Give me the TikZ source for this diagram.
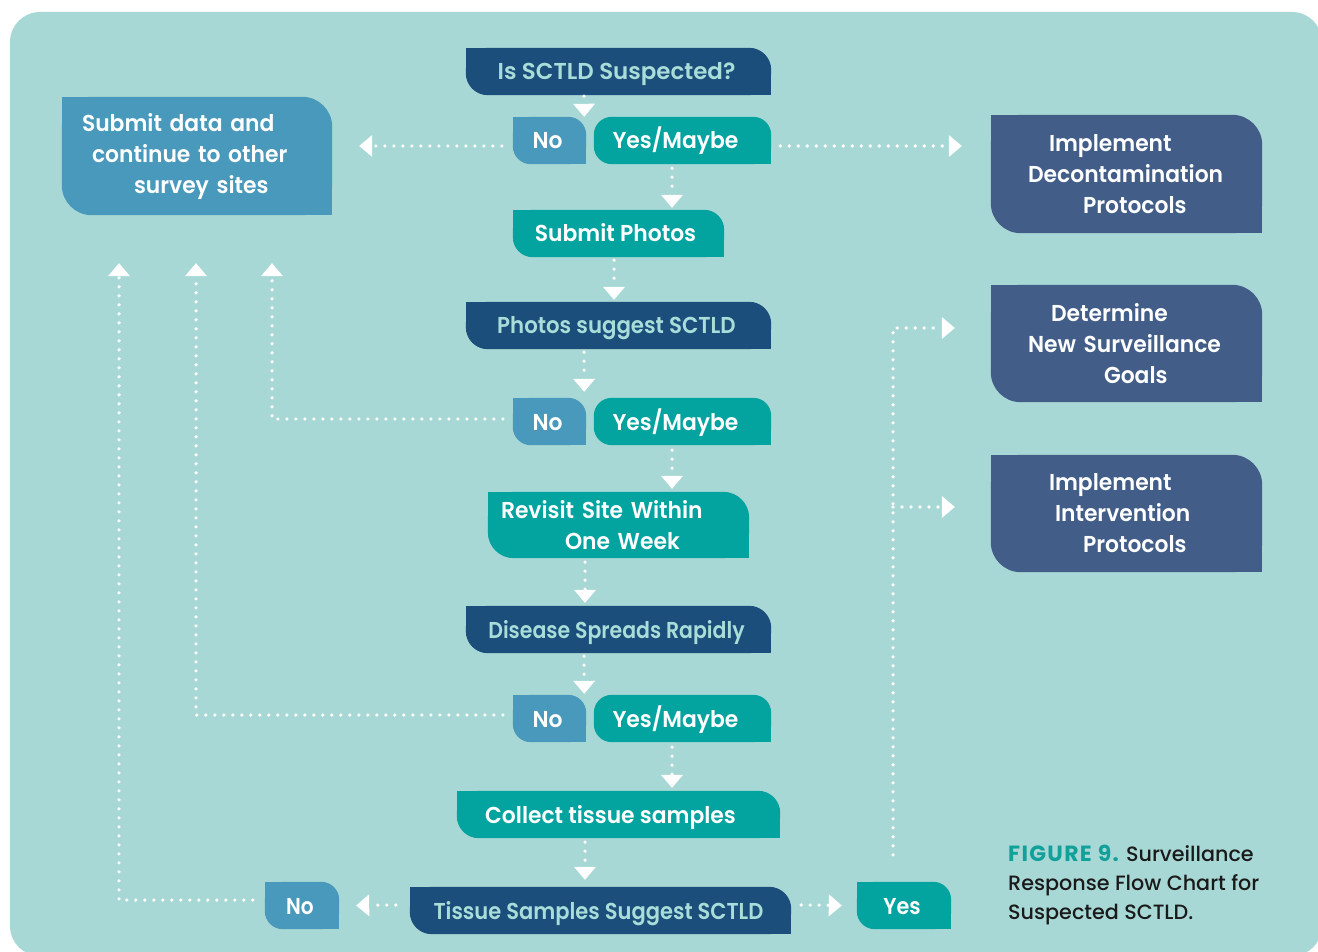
\documentclass[tikz,border=0pt]{standalone}
\usepackage{graphicx}
\usepackage{fontspec}
\usetikzlibrary{arrows.meta}
\newfontfamily\popr{Poppins}
\IfFontExistsTF{Poppins SemiBold}{\newfontfamily\boxfont{Poppins SemiBold}[FakeStretch=0.95]}{\newcommand\boxfont{\popr\bfseries}}
\IfFontExistsTF{Poppins Medium}{\newfontfamily\capfont{Poppins Medium}}{\newcommand\capfont{\popr}}
\definecolor{bgc}{HTML}{A8D8D5}
\definecolor{qc}{HTML}{1B4E7A}
\definecolor{qtext}{HTML}{A9DDD9}
\definecolor{slate}{HTML}{425E88}
\definecolor{noc}{HTML}{4899BB}
\definecolor{teal}{HTML}{03A3A0}
\definecolor{figc}{HTML}{12A09B}
\definecolor{capc}{HTML}{1A1A1A}
\pgfdeclarelayer{bg}
\pgfdeclarelayer{boxes}
\pgfsetlayers{bg,boxes,main}
% leaf shape: rounded top-right and bottom-left corners
\newcommand\leafshape[3]{%
\begin{pgfonlayer}{boxes}
\fill[#2,rounded corners=#3] (#1.south west) rectangle (#1.north east);
\fill[#2] (#1.north west) rectangle ([xshift=#3,yshift=-#3]#1.north west);
\fill[#2] (#1.south east) rectangle ([xshift=-#3,yshift=#3]#1.south east);
\end{pgfonlayer}}
% yes shape: square bottom-right only
\newcommand\yesshape[3]{%
\begin{pgfonlayer}{boxes}
\fill[#2,rounded corners=#3] (#1.south west) rectangle (#1.north east);
\fill[#2] (#1.south east) rectangle ([xshift=-#3,yshift=#3]#1.south east);
\end{pgfonlayer}}
\tikzset{
  base/.style={inner sep=0pt, text=white, font=\boxfont\fontsize{23}{31}\selectfont},
  qbox/.style={base, text=qtext, minimum height=47pt, text height=17pt, text depth=0pt},
  sbox/.style={base, minimum height=47pt, text height=17pt, text depth=0pt},
  mbox/.style={base, align=left},
  captext/.style={inner sep=0pt, text=capc, font=\capfont\fontsize{20.7}{29}\selectfont},
  dv/.style={white, line width=3.6pt, line cap=round, dash pattern=on 0pt off 9pt,
    -{Triangle[width=22pt,length=13pt,line width=0pt]}},
}
\newcommand\hsc[2]{\scalebox{#1}[1]{#2}}
\begin{document}
\begin{tikzpicture}[x=1pt,y=-1pt]
\useasboundingbox (0,0) rectangle (1318,952);
\begin{pgfonlayer}{bg}
\fill[white] (0,0) rectangle (1318,952);
\fill[bgc, rounded corners=30pt] (10,12) rectangle (1322,956);
\end{pgfonlayer}

% nodes
\node[qbox, minimum width=305pt] (q1) at (618.5,71.5) {\hspace*{-4pt}\hsc{1.05}{Is SCTLD Suspected?}};
\node[sbox, minimum width=73pt] (no1) at (549.5,140.5) {\hspace*{-4pt}No};
\node[sbox, minimum width=177pt] (yes1) at (682.5,140.5) {\hspace*{-14pt}Yes/Maybe};
\node[mbox, text width=270pt, minimum height=118pt] (sub) at (197,156)
  {\hspace*{20pt}Submit data and\\\hspace*{30pt}continue to other\\\hspace*{72pt}survey sites};
\node[mbox, text width=271pt, minimum height=118pt] (dec) at (1126.5,174)
  {\hspace*{58pt}Implement\\\hspace*{37pt}Decontamination\\\hspace*{92pt}Protocols};
\node[sbox, minimum width=211pt] (photos) at (618.5,233.5) {\hspace*{-6pt}Submit Photos};
\node[qbox, minimum width=305pt] (q2) at (618.5,325.5) {\hspace*{-4pt}\hsc{0.975}{Photos suggest SCTLD}};
\node[sbox, minimum width=73pt] (no2) at (549.5,421.5) {\hspace*{-4pt}No};
\node[sbox, minimum width=177pt] (yes2) at (682.5,421.5) {\hspace*{-14pt}Yes/Maybe};
\node[mbox, text width=261pt, minimum height=66pt] (revisit) at (618.5,525)
  {\hspace*{13pt}Revisit Site Within\\\hspace*{77pt}One Week};
\node[qbox, minimum width=305pt] (q3) at (618.5,629.5) {\hspace*{-4pt}\hsc{0.937}{Disease Spreads Rapidly}};
\node[sbox, minimum width=73pt] (no3) at (549.5,718.5) {\hspace*{-4pt}No};
\node[sbox, minimum width=177pt] (yes3) at (682.5,718.5) {\hspace*{-14pt}Yes/Maybe};
\node[sbox, minimum width=323pt] (collect) at (618.5,814.5) {\hspace*{-16pt}Collect tissue samples};
\node[qbox, minimum width=381pt] (q4) at (600.5,910.5) {\hspace*{-4pt}\hsc{0.962}{Tissue Samples Suggest SCTLD}};
\node[sbox, minimum width=74pt] (no4) at (302,905.5) {\hspace*{-4pt}\hsc{0.92}{No}};
\node[sbox, minimum width=94pt] (yes4) at (904,905.5) {\hspace*{-4pt}\hsc{0.95}{Yes}};
\node[mbox, text width=271pt, minimum height=117pt] (goals) at (1126.5,343.5)
  {\hspace*{60pt}Determine\\\hspace*{37pt}New Surveillance\\\hspace*{113pt}Goals};
\node[mbox, text width=271pt, minimum height=117pt] (interv) at (1126.5,513.5)
  {\hspace*{58pt}Implement\\\hspace*{64pt}Intervention\\\hspace*{92pt}Protocols};
\node[captext, anchor=base west, align=left] (caption) at (1008,919)
  {{\color{figc}\popr\bfseries\fontsize{22}{29}\selectfont\addfontfeature{LetterSpace=6}FIGURE 9.} Surveillance\\Response Flow Chart for\\Suspected SCTLD.};

% shapes
\leafshape{q1}{qc}{22pt}
\leafshape{no1}{noc}{18pt}
\yesshape{yes1}{teal}{18pt}
\leafshape{sub}{noc}{30pt}
\leafshape{dec}{slate}{30pt}
\leafshape{photos}{teal}{20pt}
\leafshape{q2}{qc}{22pt}
\leafshape{no2}{noc}{18pt}
\yesshape{yes2}{teal}{18pt}
\leafshape{revisit}{teal}{26pt}
\leafshape{q3}{qc}{22pt}
\leafshape{no3}{noc}{18pt}
\yesshape{yes3}{teal}{18pt}
\leafshape{collect}{teal}{22pt}
\leafshape{q4}{qc}{22pt}
\leafshape{no4}{noc}{18pt}
\leafshape{yes4}{teal}{18pt}
\leafshape{goals}{slate}{30pt}
\leafshape{interv}{slate}{30pt}

% connectors
\draw[dv] ([xshift=-34.5pt,yshift=-1pt]q1.south) -- ([xshift=-2pt]no1.north east);
\draw[dv] ([xshift=-11pt,yshift=-5.5pt]no1.west) -- ([xshift=27pt,yshift=10pt]sub.east);
\draw[dv] ([xshift=9pt,yshift=-5.5pt]yes1.east) -- ([xshift=-29pt,yshift=28pt]dec.west);
\draw[dv] ([xshift=-10.5pt,yshift=-4pt]yes1.south) -- ([xshift=53.5pt,yshift=2pt]photos.north);
\draw[dv] ([xshift=-4.5pt,yshift=-3pt]photos.south) -- ([xshift=-4.5pt,yshift=2pt]q2.north);
\draw[dv] ([xshift=-34.5pt,yshift=-3pt]q2.south) -- ([xshift=-2pt,yshift=6pt]no2.north east);
\draw[dv] ([xshift=-10pt,yshift=2.5pt]no2.west) -| ([xshift=75pt,yshift=-48pt]sub.south);
\draw[dv] ([xshift=-10.5pt,yshift=-5pt]yes2.south) -- ([xshift=53.5pt,yshift=3pt]revisit.north);
\draw[dv] ([xshift=-33.5pt,yshift=-4pt]revisit.south) -- ([xshift=-33.5pt,yshift=3pt]q3.north);
\draw[dv] ([xshift=-34.5pt,yshift=-3pt]q3.south) -- ([xshift=-2pt,yshift=1pt]no3.north east);
\draw[dv] ([xshift=-10pt,yshift=3.5pt]no3.west) -| ([xshift=-1pt,yshift=-48pt]sub.south);
\draw[dv] ([xshift=-10.5pt,yshift=-5pt]yes3.south) -- ([xshift=53.5pt,yshift=3pt]collect.north);
\draw[dv] ([xshift=-33.5pt,yshift=-4pt]collect.south) -- ([xshift=-15.5pt,yshift=7pt]q4.north);
\draw[dv] ([xshift=-14pt,yshift=5.5pt]q4.west) -- ([xshift=17pt]no4.east);
\draw[dv] ([xshift=-12pt,yshift=5.5pt]no4.west) -| ([xshift=-78pt,yshift=-48pt]sub.south);
\draw[dv] ([xshift=10pt,yshift=5.5pt]q4.east) -- ([xshift=-15pt]yes4.west);
\coordinate (vb) at ([xshift=-11pt,yshift=27pt]yes4.north);
\coordinate (ib) at ([xshift=-36pt,yshift=6.5pt]interv.west);
\draw[dv] (vb) |- ([xshift=-36pt,yshift=15.5pt]goals.west);
\draw[dv] (vb |- ib) -- (ib);
\end{tikzpicture}
\end{document}
